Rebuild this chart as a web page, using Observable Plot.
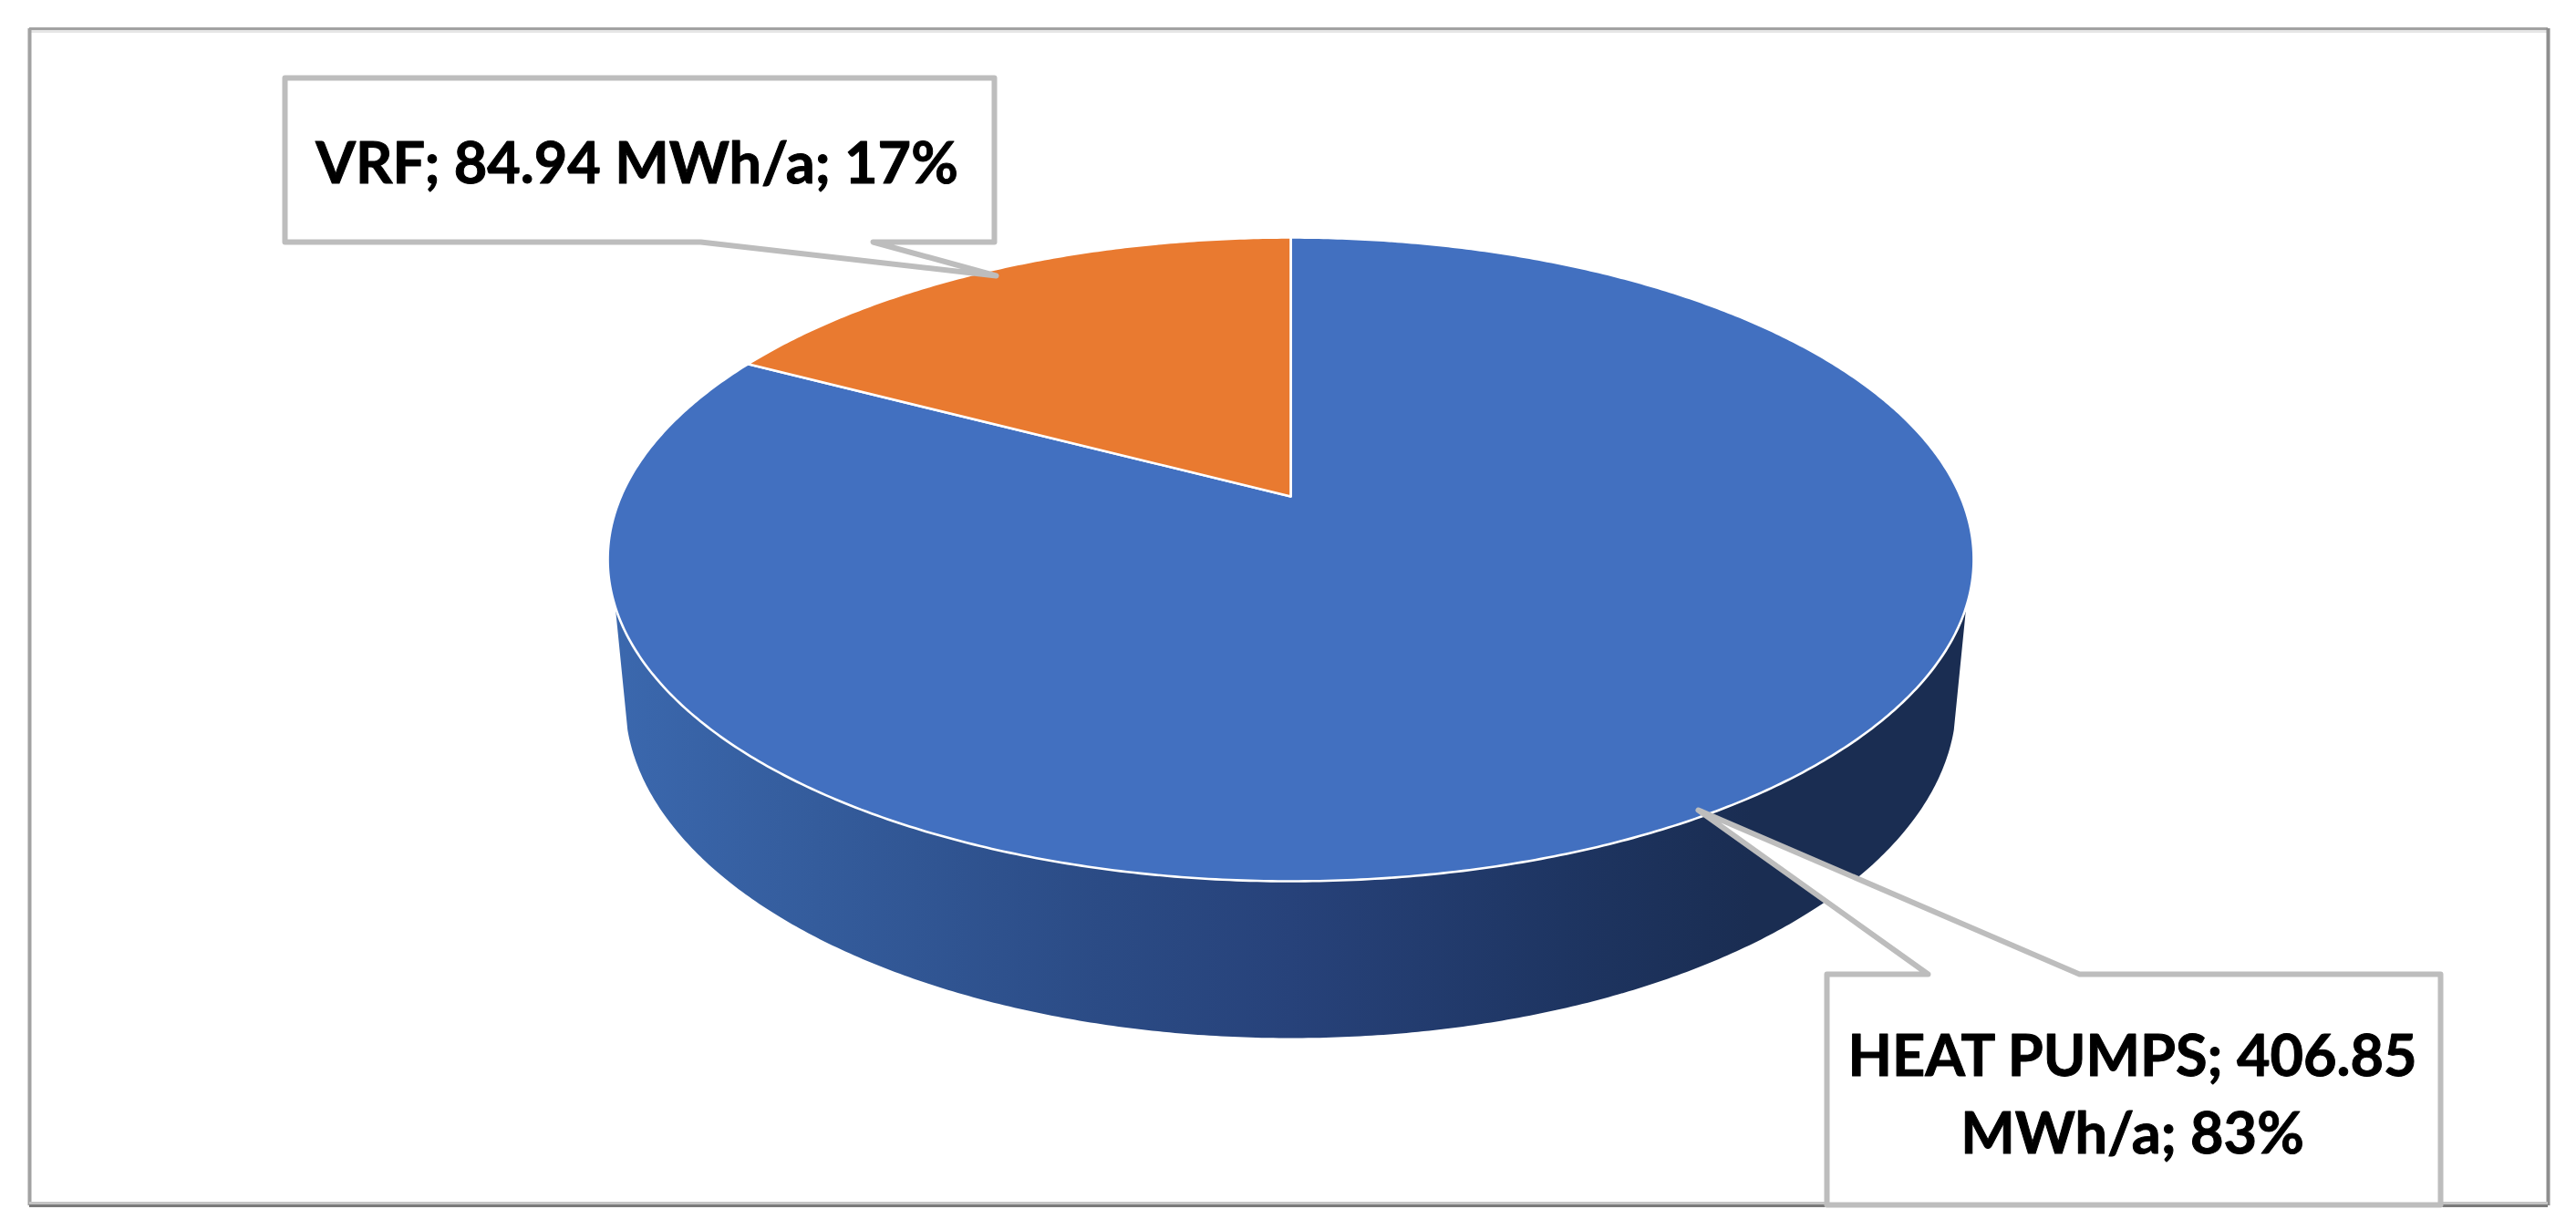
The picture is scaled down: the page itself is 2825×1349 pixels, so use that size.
<!doctype html>
<html>
<head>
<meta charset="utf-8">
<style>
html,body{margin:0;padding:0;background:#fff;overflow:hidden}
svg{display:block}
</style>
<script src="https://cdn.jsdelivr.net/npm/d3@7"></script>
<script src="https://cdn.jsdelivr.net/npm/@observablehq/plot@0.6"></script>
</head>
<body>
<div id="chart"></div>
<script>
// ---- data ----
const categories = ["HEAT PUMPS", "VRF"];
const energyMWh = [406.85, 84.94];
const percentLabels = ["83%", "17%"];
const sliceColors = ["#4270C0", "#E97A30"];
const dataLabels = [
  `${categories[0]}; ${energyMWh[0].toFixed(2)}\nMWh/a; ${percentLabels[0]}`,
  `${categories[1]}; ${energyMWh[1].toFixed(2)} MWh/a; ${percentLabels[1]}`
];

// ---- layout ----
const W = 2825, H = 1349;
const pie = {cx: 1415, cy: 544, A: 734.5, B: 339.5, p: 0.1955};
const base = {cx: 1415, cy: 768, rx: 730, ry: 370};
const callouts = [
  {name: categories[0], pts: [[2003,1068],[2114,1068],[1862,888],[2280,1068],[2676,1068],[2676,1321],[2003,1321],[2003,1068]]},
  {name: categories[1], pts: [[312,85],[1090,85],[1090,265],[957,265],[1092,302],[768,265],[312,265],[312,85]]}
];
const labelAnchors = [[2338, 1195], [698, 173]];

// a point on the pie's top face: angle clockwise from twelve o'clock, radius 1 on the rim
function project(theta, r = 1) {
  const u = r * Math.sin(theta), v = -r * Math.cos(theta);
  const w = 1 - pie.p * v;
  return [pie.cx + pie.A * u / w, pie.cy + pie.B * v / w];
}
const total = d3.sum(energyMWh);
let acc = 0;
const slices = energyMWh.map((v, i) => {
  const a0 = acc / total * 2 * Math.PI;
  acc += v;
  const a1 = acc / total * 2 * Math.PI;
  const n = Math.ceil((a1 - a0) * 120);
  const pts = [[pie.cx, pie.cy]];
  for (let k = 0; k <= n; k++) pts.push(project(a0 + (a1 - a0) * k / n));
  pts.push([pie.cx, pie.cy]);
  return {name: categories[i], fill: sliceColors[i], pts};
});

// the visible side wall
const rimLow = d3.range(0, 721).map(k => project(k / 720 * 2 * Math.PI))
  .filter(d => d[1] >= 664).sort((a, b) => a[0] - b[0]);
const baseLow = d3.range(0, 361).map(k => {
  const t = Math.PI * (k / 360);          // 0 = right, PI = left, through the bottom
  return [base.cx + base.rx * Math.cos(t), base.cy + base.ry * Math.sin(t)];
}).filter(d => d[1] >= 800);
const sideWall = [...rimLow, ...baseLow, rimLow[0]];

const toRows = (pts, name) => pts.map(([x, y]) => ({x, y, name}));

function defs() {
  const d = d3.create("svg:defs");
  const g = d.append("linearGradient").attr("id", "sideGrad")
    .attr("gradientUnits", "userSpaceOnUse")
    .attr("x1", 671).attr("x2", 2159).attr("y1", 0).attr("y2", 0);
  [[0, "#3B68AE"], [0.15, "#345C9C"], [0.36, "#2B4B85"], [0.5, "#27427A"],
   [0.7, "#1E3562"], [0.84, "#1A2D52"], [1, "#1A2D52"]].forEach(([o, c]) =>
    g.append("stop").attr("offset", o).attr("stop-color", c));
  return d.node();
}

const frameY = [31, 1322], frameX = [32, 2794];

const chart = Plot.plot({
  width: W, height: H,
  margin: 0,
  x: {domain: [0, W], range: [0, W], axis: null},
  y: {domain: [0, H], range: [0, H], axis: null},
  style: {background: "#fff"},
  marks: [
    defs,
    // outer chart border
    Plot.ruleY([frameY[0]], {x1: frameX[0], x2: frameX[1], stroke: "#A2A2A2", strokeWidth: 3}),
    Plot.ruleY([frameY[0] + 3], {x1: frameX[0], x2: frameX[1], stroke: "#E6E6E6", strokeWidth: 3}),
    Plot.ruleX([frameX[0]], {y1: frameY[0], y2: frameY[1], stroke: "#A2A2A2", strokeWidth: 4}),
    Plot.ruleX([frameX[1]], {y1: frameY[0], y2: frameY[1], stroke: "#8E8E8E", strokeWidth: 4}),
    Plot.ruleY([frameY[1] - 3], {x1: frameX[0], x2: frameX[1], stroke: "#C4C4C4", strokeWidth: 3}),
    Plot.ruleY([frameY[1]], {x1: frameX[0], x2: frameX[1], stroke: "#7A7A7A", strokeWidth: 3}),
    // side wall, then the slices on top
    Plot.line(toRows(sideWall, "side"), {x: "x", y: "y", fill: "url(#sideGrad)", stroke: "none"}),
    ...slices.map(s => Plot.line(toRows(s.pts, s.name), {
      x: "x", y: "y", fill: s.fill, stroke: "#fff", strokeWidth: 2.6
    })),
    // callouts
    ...callouts.map(c => Plot.line(toRows(c.pts, c.name), {
      x: "x", y: "y", fill: "#fff", stroke: "#BDBDBD", strokeWidth: 6,
      strokeLinejoin: "round", imageFilter: "blur(0.6px)"
    })),
    // data labels
    Plot.text(dataLabels, {
      x: (d, i) => labelAnchors[i][0],
      y: (d, i) => labelAnchors[i][1],
      text: d => d,
      fontFamily: "Lato",
      fontWeight: 700,
      fontSize: 63,
      fill: "#000",
      stroke: "#000",
      strokeWidth: 1,
      lineHeight: 85 / 63,
      textAnchor: "middle",
      imageFilter: "blur(0.7px)"
    })
  ]
});
document.getElementById("chart").appendChild(chart);
</script>
</body>
</html>
